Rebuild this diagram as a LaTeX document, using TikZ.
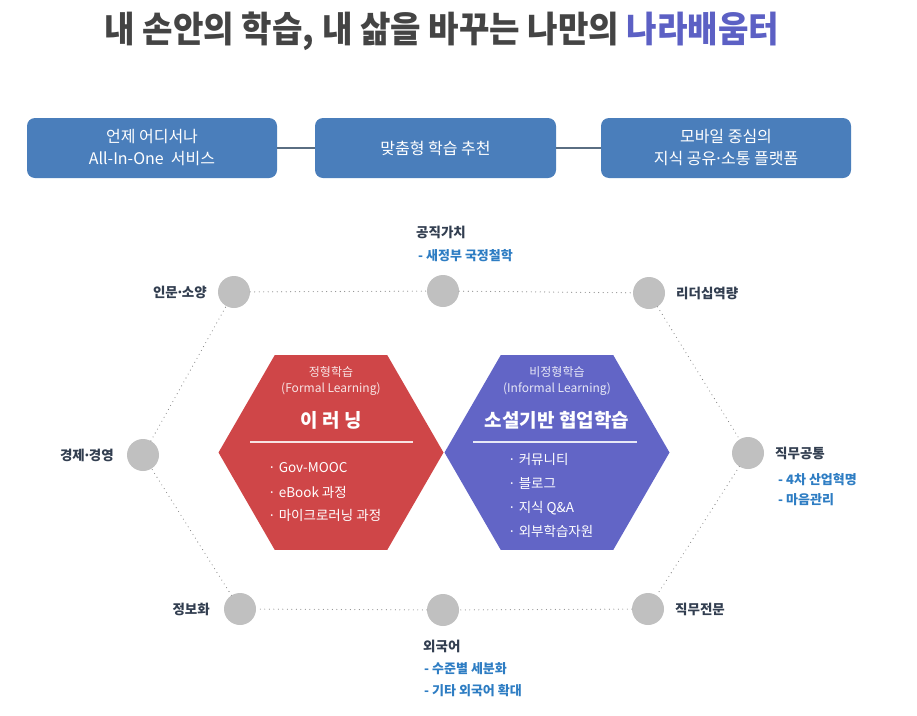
\documentclass[tikz,border=0pt]{standalone}
\usepackage{fontspec}
\newfontfamily\krfont{Noto Sans CJK KR}
\usetikzlibrary{shapes.geometric,positioning}
\definecolor{titlegray}{RGB}{68,68,68}
\definecolor{titleblue}{RGB}{92,96,196}
\definecolor{boxblue}{RGB}{74,126,187}
\definecolor{linkgray}{RGB}{90,110,130}
\definecolor{topicgray}{RGB}{192,192,192}
\definecolor{hexred}{RGB}{207,70,72}
\definecolor{hexblue}{RGB}{98,101,198}
\definecolor{labelnavy}{RGB}{50,62,80}
\definecolor{subblue}{RGB}{46,125,195}
\newcommand{\middot}{\makebox[0.3em]{·}}
\tikzset{
  topbox/.style={fill=boxblue, rounded corners=8pt, minimum height=60pt, inner sep=0pt,
    text=white, align=center, font=\krfont\fontsize{16}{22}\selectfont},
  link/.style={linkgray, line width=1.2pt},
  topic/.style={circle, fill=topicgray, minimum size=32pt, inner sep=0pt},
  dots/.style={gray, line width=1.1pt, dash pattern=on 0pt off 4.5pt, line cap=round},
  lbl/.style={text=labelnavy, inner sep=0pt, font=\krfont\bfseries\fontsize{13.5}{16}\selectfont},
  sublbl/.style={text=subblue, inner sep=0pt, font=\krfont\bfseries\fontsize{13}{16}\selectfont},
  hexa/.style={regular polygon, regular polygon sides=6, minimum size=225pt, inner sep=0pt},
  hexsmall/.style={text=white, text opacity=0.85, inner sep=0pt, font=\krfont\fontsize{12}{14}\selectfont},
  hexhead/.style={text=white, inner sep=0pt, font=\krfont\bfseries\fontsize{19}{22}\selectfont},
  hexitem/.style={text=white, inner sep=0pt, anchor=west, font=\krfont\fontsize{13.5}{16}\selectfont}
}
\begin{document}
\begin{tikzpicture}[x=1pt,y=-1pt]
\useasboundingbox (0,0) rectangle (917,715);
\node[inner sep=0pt, font=\krfont\bfseries\fontsize{36}{40}\selectfont] (title) at (442,31)
  {\scalebox{0.92}[1]{\textcolor{titlegray}{내 손안의 학습, 내 삶을 바꾸는 나만의} \textcolor{titleblue}{나라배움터}}};

\node[topbox, minimum width=250pt] (anywhere) at (152,148) {언제 어디서나\\All-In-One\ \ 서비스};
\node[topbox, minimum width=241pt] (custom) at (435.5,148) {맞춤형 학습 추천};
\node[topbox, minimum width=250pt] (mobile) at (726,148) {모바일 중심의\\지식 공유\middot 소통 플랫폼};
\draw[link] (anywhere) -- (custom);
\draw[link] (custom) -- (mobile);

\foreach \name/\x/\y in {humanity/234/292, value/443/291, leader/649/293, economy/143/455,
  common/748/453, info/240/609, language/443/610, expert/648/609}
  \node[topic] (\name) at (\x,\y) {};
\draw[dots] (humanity) -- (value) -- (leader) -- (common) -- (expert) -- (language) -- (info) -- (economy) -- (humanity);

\node[lbl, anchor=east] (humanitylbl) at (207,292) {인문\middot 소양};
\node[lbl, anchor=west] (valuelbl) at (416,232) {공직가치};
\node[sublbl, anchor=west] (valuesub) at (418,256) {- 새정부 국정철학};
\node[lbl, anchor=west] (leaderlbl) at (676,293) {리더십역량};
\node[lbl, anchor=east] (economylbl) at (114,455) {경제\middot 경영};
\node[lbl, anchor=west] (commonlbl) at (775,453) {직무공통};
\node[sublbl, anchor=west] (commonsub1) at (778,480) {- 4차 산업혁명};
\node[sublbl, anchor=west] (commonsub2) at (778,500) {- 마음관리};
\node[lbl, anchor=east] (infolbl) at (210,609) {정보화};
\node[lbl, anchor=west] (expertlbl) at (675,609) {직무전문};
\node[lbl, anchor=west] (languagelbl) at (423,646) {외국어};
\node[sublbl, anchor=west] (languagesub1) at (424,669) {- 수준별 세분화};
\node[sublbl, anchor=west] (languagesub2) at (424,691) {- 기타 외국어 확대};

\node[hexa, fill=hexred] (formal) at (331,452.5) {};
\node[hexa, fill=hexblue] (informal) at (557,452.5) {};

\node[hexsmall] (formalkind) at (331,372) {정형학습};
\node[hexsmall] (formalen) at (331,389) {(Formal Learning)};
\node[hexhead] (formalhead) at (331,420) {이 러 닝};
\draw[white, opacity=0.85, line width=1.2pt] (250,442) -- (413,442);
\node[hexitem] (mooc) at (268,468) {· Gov-MOOC};
\node[hexitem] (ebook) at (268,492) {· eBook 과정};
\node[hexitem] (micro) at (268,515) {· 마이크로러닝 과정};

\node[hexsmall] (informalkind) at (557,372) {비정형학습};
\node[hexsmall] (informalen) at (557,389) {(Informal Learning)};
\node[hexhead] (informalhead) at (557,420) {소설기반 협업학습};
\draw[white, opacity=0.85, line width=1.2pt] (473,442) -- (637,442);
\node[hexitem] (community) at (508,459) {· 커뮤니티};
\node[hexitem] (blog) at (508,483) {· 블로그};
\node[hexitem] (qna) at (508,508) {· 지식 Q\&A};
\node[hexitem] (resource) at (508,531) {· 외부학습자원};
\end{tikzpicture}
\end{document}
